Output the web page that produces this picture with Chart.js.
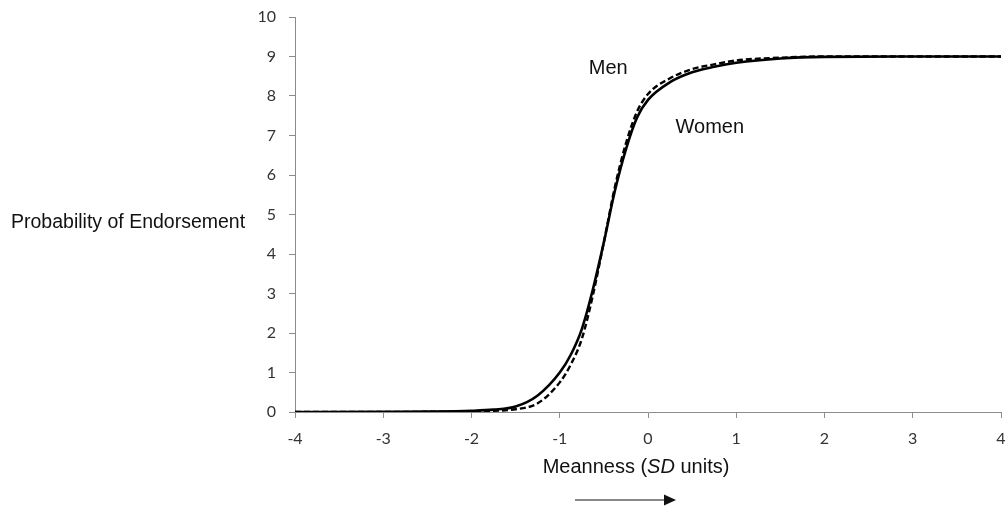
<!DOCTYPE html>
<html>
<head>
<meta charset="utf-8">
<script src="https://cdn.jsdelivr.net/npm/chart.js@4"></script>
<style>
  html, body { margin: 0; padding: 0; background: #fff; }
</style>
</head>
<body>
<canvas id="curveChart" width="1005" height="512"></canvas>
<script>
// meanness level (SD units)
const meanness = [-4, -3, -2.5, -2, -1.75, -1.5, -1.25, -1, -0.875, -0.75, -0.625, -0.5,
  -0.375, -0.25, -0.125, 0, 0.25, 0.5, 0.75, 1, 1.5, 2, 3, 4];

// endorsement curves
const women = [0, 0.005, 0.01, 0.03, 0.06, 0.14, 0.42, 1.0, 1.45, 2.1, 3.1, 4.3,
  5.6, 6.65, 7.45, 7.9, 8.35, 8.6, 8.74, 8.84, 8.95, 8.99, 9, 9];
const men = [0, 0.002, 0.005, 0.015, 0.03, 0.07, 0.22, 0.75, 1.2, 1.85, 2.95, 4.3,
  5.7, 6.8, 7.6, 8.05, 8.45, 8.68, 8.8, 8.9, 8.97, 9, 9, 9];

const xTicks = [-4, -3, -2, -1, 0, 1, 2, 3, 4];
const yTicks = [0, 1, 2, 3, 4, 5, 6, 7, 8, 9, 10];

const seriesLabels = [
  { text: "Men", x: -0.45, y: 8.7 },
  { text: "Women", x: 0.7, y: 7.2 }
];

const toPoints = ys => meanness.map((m, i) => ({ x: m, y: ys[i] }));

const tickFont = { family: "Lato, 'Open Sans', sans-serif", size: 16 };
const textFont = "'Liberation Sans', Arial, sans-serif";

const annotations = {
  id: "annotations",
  afterDraw(chart) {
    const ctx = chart.ctx;
    const xs = chart.scales.x, ys = chart.scales.y;
    const area = chart.chartArea;
    ctx.save();
    ctx.fillStyle = "#111";
    ctx.textBaseline = "middle";

    // curve labels
    ctx.font = "20px " + textFont;
    ctx.textAlign = "center";
    seriesLabels.forEach(l => {
      ctx.fillText(l.text, xs.getPixelForValue(l.x), ys.getPixelForValue(l.y));
    });

    // y axis title, horizontal
    ctx.font = "19.5px " + textFont;
    ctx.textAlign = "left";
    ctx.fillText("Probability of Endorsement", 11, ys.getPixelForValue(4.8));

    // x axis title with italic SD
    const parts = [
      { t: "Meanness (", f: "20px " + textFont },
      { t: "SD", f: "italic 20px " + textFont },
      { t: " units)", f: "20px " + textFont }
    ];
    let total = 0;
    parts.forEach(p => { ctx.font = p.f; p.w = ctx.measureText(p.t).width; total += p.w; });
    let x = 636 - total / 2;
    const ty = area.bottom + 55;
    parts.forEach(p => { ctx.font = p.f; ctx.fillText(p.t, x, ty); x += p.w; });

    // direction arrow
    const ay = area.bottom + 88;
    ctx.strokeStyle = "#111";
    ctx.lineWidth = 1.2;
    ctx.beginPath();
    ctx.moveTo(575, ay);
    ctx.lineTo(665, ay);
    ctx.stroke();
    ctx.beginPath();
    ctx.moveTo(676, ay);
    ctx.lineTo(664, ay - 5.5);
    ctx.lineTo(664, ay + 5.5);
    ctx.closePath();
    ctx.fill();
    ctx.restore();
  }
};

new Chart(document.getElementById("curveChart"), {
  type: "line",
  data: {
    datasets: [
      {
        label: "Women",
        data: toPoints(women),
        borderColor: "#000",
        borderWidth: 2.6,
        pointRadius: 0,
        cubicInterpolationMode: "monotone"
      },
      {
        label: "Men",
        data: toPoints(men),
        borderColor: "#000",
        borderWidth: 2.4,
        borderDash: [6, 3],
        pointRadius: 0,
        cubicInterpolationMode: "monotone"
      }
    ]
  },
  options: {
    responsive: false,
    animation: false,
    layout: { padding: { left: 0, right: 4, top: 17, bottom: 0 } },
    plugins: {
      legend: { display: false },
      tooltip: { enabled: false }
    },
    scales: {
      x: {
        type: "linear",
        min: -4,
        max: 4,
        afterBuildTicks: s => { s.ticks = xTicks.map(v => ({ value: v })); },
        afterFit: s => { s.height = 100; s.paddingLeft = 0; s.paddingRight = 0; },
        border: { color: "#8c8c8c", width: 1 },
        grid: { drawOnChartArea: false, tickLength: 6, color: "#8c8c8c" },
        ticks: { color: "#333", font: tickFont, padding: 11, maxRotation: 0 }
      },
      y: {
        min: 0,
        max: 10,
        afterBuildTicks: s => { s.ticks = yTicks.map(v => ({ value: v })); },
        afterFit: s => { s.width = 295; s.paddingTop = 0; s.paddingBottom = 0; },
        border: { color: "#8c8c8c", width: 1 },
        grid: { drawOnChartArea: false, tickLength: 6, color: "#8c8c8c" },
        ticks: { color: "#333", font: tickFont, padding: 13 }
      }
    }
  },
  plugins: [annotations]
});
</script>
</body>
</html>
